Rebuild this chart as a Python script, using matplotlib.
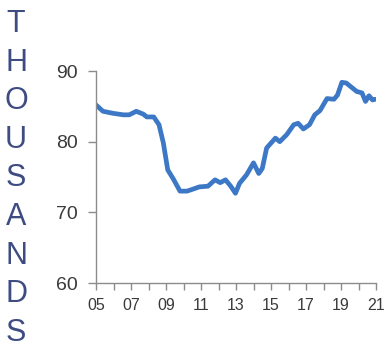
import matplotlib
matplotlib.use('Agg')
import matplotlib.pyplot as plt
from matplotlib.ticker import MultipleLocator

# ── Data ─────────────────────────────────────────────────────────────────────
years = [2005.0, 2005.4, 2006.0, 2006.56, 2006.9, 2007.3, 2007.7, 2007.9,
         2008.3, 2008.6, 2008.85, 2009.1, 2009.4, 2009.8, 2010.2, 2010.56,
         2010.9, 2011.4, 2011.8, 2012.1, 2012.4, 2012.7, 2012.97, 2013.2,
         2013.6, 2014.0, 2014.3, 2014.5, 2014.75, 2015.0, 2015.25, 2015.5,
         2015.9, 2016.3, 2016.55, 2016.85, 2017.2, 2017.5, 2017.8, 2018.2,
         2018.6, 2018.8, 2019.05, 2019.3, 2019.6, 2019.9, 2020.2, 2020.4,
         2020.6, 2020.8, 2020.95]
values = [85.2, 84.3, 84.0, 83.8, 83.8, 84.3, 83.9, 83.5,
          83.5, 82.4, 79.8, 76.0, 74.8, 73.0, 73.0, 73.3,
          73.6, 73.7, 74.6, 74.2, 74.6, 73.7, 72.7, 74.1,
          75.3, 77.0, 75.5, 76.2, 79.1, 79.8, 80.5, 80.0,
          81.0, 82.4, 82.6, 81.8, 82.4, 83.8, 84.4, 86.1,
          86.0, 86.6, 88.4, 88.3, 87.7, 87.1, 86.9, 85.7,
          86.5, 85.9, 86.0]

x_ticks  = [2005, 2007, 2009, 2011, 2013, 2015, 2017, 2019, 2021]
x_labels = ['05', '07', '09', '11', '13', '15', '17', '19', '21']
y_ticks  = [60, 70, 80, 90]
side_label = 'THOUSANDS'

plt.rcParams['font.family'] = ['Liberation Sans', 'DejaVu Sans']

fig = plt.figure(figsize=(3.86, 3.52), dpi=100)
ax = fig.add_axes([96 / 386, 69 / 352, 280 / 386, 212 / 352])

ax.plot(years, values, color='#3D78C6', lw=3.4, solid_capstyle='round',
        solid_joinstyle='round')

ax.set_xlim(2005, 2021)
ax.set_ylim(60, 90)
ax.set_xticks(x_ticks)
ax.set_xticklabels(x_labels)
ax.xaxis.set_minor_locator(MultipleLocator(1))
ax.set_yticks(y_ticks)

for s in ['top', 'right']:
    ax.spines[s].set_visible(False)
for s in ['left', 'bottom']:
    ax.spines[s].set_color('#8c8c8c')
    ax.spines[s].set_linewidth(1.0)

ax.tick_params(axis='both', which='both', direction='out', color='#8c8c8c',
               width=1.0, labelcolor='#3a3a3a')
ax.tick_params(axis='y', which='major', length=6, pad=7, labelsize=14)
ax.tick_params(axis='x', which='both', length=5, pad=6, labelsize=11.5)

# stacked vertical letters on the left
for k, ch in enumerate(side_label):
    y_px = 24 + k * 38.6
    fig.text(16 / 386, 1 - y_px / 352, ch, ha='center', va='center',
             fontsize=22, color='#3E4C82')

fig.savefig('out.png', dpi=100)
